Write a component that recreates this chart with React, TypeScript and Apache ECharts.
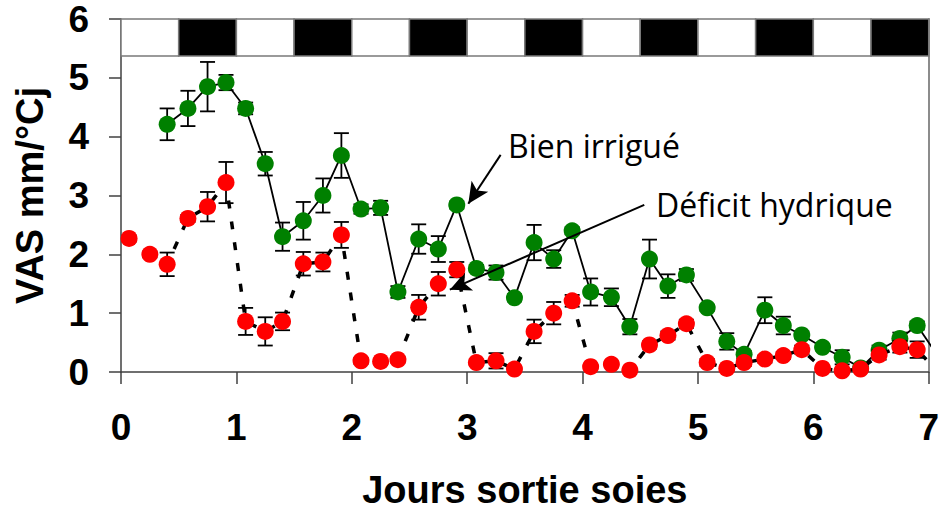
import React, { useEffect, useRef } from "react";
import * as echarts from "echarts";

// Time of each measurement (days after silk emergence)
const days = [
  0.07, 0.25, 0.40, 0.58, 0.75, 0.91, 1.08, 1.25, 1.40, 1.58, 1.75, 1.91,
  2.08, 2.25, 2.40, 2.58, 2.75, 2.91, 3.08, 3.25, 3.41, 3.58, 3.75, 3.91,
  4.07, 4.25, 4.41, 4.58, 4.74, 4.90, 5.08, 5.25, 5.40, 5.58, 5.74, 5.90,
  6.08, 6.25, 6.41, 6.57, 6.75, 6.90, 7.07,
];

// Bien irrigué (well watered)
const bienIrrigue = [
  null, null, 4.21, 4.48, 4.85, 4.92, 4.48, 3.54, 2.30, 2.57, 3.00, 3.68,
  2.77, 2.79, 1.36, 2.26, 2.09, 2.84, 1.76, 1.69, 1.26, 2.20, 1.92, 2.40,
  1.36, 1.27, 0.77, 1.92, 1.46, 1.65, 1.09, 0.52, 0.30, 1.05, 0.79, 0.63,
  0.42, 0.25, 0.07, 0.37, 0.57, 0.79, 0.30,
];
const bienIrrigueErr = [
  null, null, 0.27, 0.30, 0.42, 0.13, 0.10, 0.20, 0.24, 0.32, 0.29, 0.38,
  0.08, 0.12, 0.10, 0.25, 0.22, 0.06, 0.06, 0.12, 0.06, 0.30, 0.15, 0.06,
  0.23, 0.15, 0.13, 0.33, 0.20, 0.10, 0.05, 0.14, 0.06, 0.22, 0.15, 0.06,
  0.05, 0.12, 0.05, 0.08, 0.10, 0.07, null,
];

// Déficit hydrique (water deficit)
const deficitHydrique = [
  2.27, 2.00, 1.83, 2.61, 2.81, 3.22, 0.86, 0.69, 0.86, 1.84, 1.87, 2.33,
  0.19, 0.18, 0.21, 1.10, 1.50, 1.74, 0.16, 0.19, 0.05, 0.69, 1.00, 1.21,
  0.09, 0.13, 0.03, 0.46, 0.62, 0.82, 0.16, 0.06, 0.16, 0.22, 0.28, 0.38,
  0.06, 0.02, 0.05, 0.29, 0.43, 0.38, 0.02,
];
const deficitHydriqueErr = [
  0.05, 0.05, 0.20, 0.06, 0.25, 0.35, 0.23, 0.24, 0.15, 0.20, 0.16, 0.22,
  0.05, 0.04, 0.05, 0.21, 0.20, 0.13, 0.04, 0.13, 0.04, 0.20, 0.19, 0.10,
  0.03, 0.04, 0.03, 0.06, 0.07, 0.07, 0.06, 0.04, 0.06, 0.06, 0.06, 0.07,
  0.04, 0.04, 0.04, 0.08, 0.10, 0.14, null,
];

// Day / night band at the top of the plot
const periodStart = [0, 0.5, 1, 1.5, 2, 2.5, 3, 3.5, 4, 4.5, 5, 5.5, 6, 6.5];
const periodEnd = [0.5, 1, 1.5, 2, 2.5, 3, 3.5, 4, 4.5, 5, 5.5, 6, 6.5, 7];
const periodType = [
  "jour", "nuit", "jour", "nuit", "jour", "nuit", "jour",
  "nuit", "jour", "nuit", "jour", "nuit", "jour", "nuit",
];
const bandBottom = 5.37;

// Annotation arrows: [from, to] in data coordinates
const arrowBien = [[3.29, 3.69], [3.01, 2.86]];
const arrowDeficit = [[4.535, 2.84], [2.85, 1.40]];

const AXIS_FONT = "'Liberation Sans', Arial, sans-serif";
const NOTE_FONT = "'Open Sans', 'Noto Sans', sans-serif";

export default function App() {
  const ref = useRef<HTMLDivElement>(null);

  useEffect(() => {
    if (!ref.current) return;
    const chart = echarts.init(ref.current, null, { renderer: "svg" });

    const pts = (vals: (number | null)[]) =>
      days
        .map((d, i) => [d, vals[i]])
        .filter((p) => p[1] !== null && p[1] !== undefined);

    const errs = (vals: (number | null)[], e: (number | null)[]) =>
      days
        .map((d, i) =>
          vals[i] !== null && e[i] !== null
            ? [d, (vals[i] as number) - (e[i] as number), (vals[i] as number) + (e[i] as number)]
            : null
        )
        .filter((p) => p !== null);

    const errRender = (params: any, api: any) => {
      const x = api.value(0);
      const a = api.coord([x, api.value(1)]);
      const b = api.coord([x, api.value(2)]);
      const w = 7.5;
      const style = { stroke: "#000", lineWidth: 1.8 };
      return {
        type: "group",
        children: [
          { type: "line", shape: { x1: a[0], y1: a[1], x2: b[0], y2: b[1] }, style },
          { type: "line", shape: { x1: a[0] - w, y1: a[1], x2: a[0] + w, y2: a[1] }, style },
          { type: "line", shape: { x1: b[0] - w, y1: b[1], x2: b[0] + w, y2: b[1] }, style },
        ],
      };
    };

    const option: any = {
      animation: false,
      backgroundColor: "#fff",
      grid: { left: 121, right: 10, top: 19, bottom: 138, containLabel: false },
      xAxis: {
        type: "value",
        min: 0,
        max: 7,
        interval: 1,
        axisLine: { show: true, lineStyle: { color: "#404040", width: 1.5 } },
        axisTick: { show: true, length: 12, lineStyle: { color: "#404040", width: 1.5 } },
        axisLabel: {
          fontSize: 37,
          fontWeight: "bold",
          color: "#000",
          fontFamily: AXIS_FONT,
          margin: 37,
        },
        splitLine: { show: false },
        name: "Jours sortie soies",
        nameLocation: "middle",
        nameGap: 99,
        nameTextStyle: { fontSize: 38, fontWeight: "bold", color: "#000", fontFamily: AXIS_FONT },
      },
      yAxis: [
        {
          type: "value",
          min: 0,
          max: 6,
          interval: 1,
          axisLine: { show: true, lineStyle: { color: "#404040", width: 1.5 } },
          axisTick: { show: true, length: 12, lineStyle: { color: "#404040", width: 1.5 } },
          axisLabel: {
            fontSize: 37,
            fontWeight: "bold",
            color: "#000",
            fontFamily: AXIS_FONT,
            margin: 32,
          },
          splitLine: { show: false },
          name: "VAS mm/°Cj",
          nameLocation: "middle",
          nameRotate: 90,
          nameGap: 72,
          nameTextStyle: { fontSize: 38, fontWeight: "bold", color: "#000", fontFamily: AXIS_FONT },
        },
        {
          type: "value",
          position: "right",
          min: 0,
          max: 6,
          interval: 1,
          axisLine: { show: true, lineStyle: { color: "#8c8c8c", width: 2 } },
          axisTick: { show: false },
          axisLabel: { show: false },
          splitLine: { show: false },
        },
      ],
      series: [
        {
          name: "Bien irrigué erreurs",
          type: "custom",
          renderItem: errRender,
          data: errs(bienIrrigue, bienIrrigueErr),
          encode: { x: 0, y: [1, 2] },
          z: 2,
          silent: true,
        },
        {
          name: "Bien irrigué",
          type: "line",
          data: pts(bienIrrigue),
          symbol: "circle",
          symbolSize: 17,
          showAllSymbol: true,
          itemStyle: { color: "#008000" },
          lineStyle: { color: "#000", width: 1.8 },
          clip: true,
          z: 3,
          markArea: {
            silent: true,
            label: { show: false },
            itemStyle: { borderColor: "#7a7a7a", borderWidth: 1.5 },
            data: periodStart.map((s, i) => [
              {
                xAxis: s,
                yAxis: bandBottom,
                itemStyle: {
                  color: periodType[i] === "jour" ? "#ffffff" : "#000000",
                  borderColor: "#7a7a7a",
                  borderWidth: 1.5,
                },
              },
              { xAxis: periodEnd[i], yAxis: 6 },
            ]),
          },
        },
        {
          name: "Déficit hydrique erreurs",
          type: "custom",
          renderItem: errRender,
          data: errs(deficitHydrique, deficitHydriqueErr),
          encode: { x: 0, y: [1, 2] },
          z: 4,
          silent: true,
        },
        {
          name: "Déficit hydrique",
          type: "line",
          data: pts(deficitHydrique),
          symbol: "circle",
          symbolSize: 17,
          showAllSymbol: true,
          itemStyle: { color: "#ff0000" },
          lineStyle: { color: "#000", width: 3.5, type: [8, 13] },
          clip: true,
          z: 5,
          markLine: {
            silent: true,
            symbol: ["none", "arrow"],
            symbolSize: [15, 21],
            label: { show: false },
            lineStyle: { color: "#000", width: 2, type: "solid" },
            data: [
              [{ coord: arrowBien[0] }, { coord: arrowBien[1] }],
              [{ coord: arrowDeficit[0] }, { coord: arrowDeficit[1] }],
            ],
          },
        },
      ],
      graphic: [
        {
          type: "text",
          x: 508,
          y: 145.5,
          style: {
            text: "Bien irrigué",
            fill: "#000",
            fontSize: 32,
            fontFamily: NOTE_FONT,
            align: "left",
            verticalAlign: "middle",
          },
        },
        {
          type: "text",
          x: 656,
          y: 204,
          style: {
            text: "Déficit hydrique",
            fill: "#000",
            fontSize: 32,
            fontFamily: NOTE_FONT,
            align: "left",
            verticalAlign: "middle",
          },
        },
      ],
    };

    chart.setOption(option);
    return () => chart.dispose();
  }, []);

  return (
    <div
      ref={ref}
      style={{ position: "absolute", left: 0, top: 0, width: 942, height: 514 }}
    />
  );
}
